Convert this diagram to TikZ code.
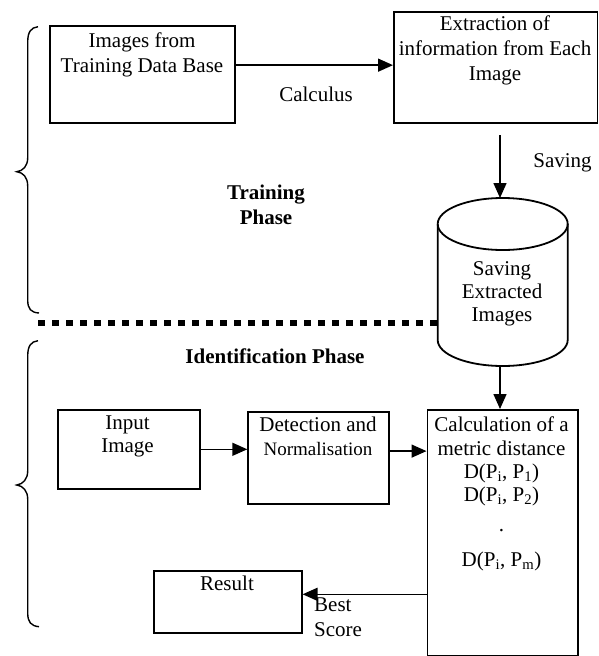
\documentclass[tikz,border=0pt]{standalone}
\usepackage{fontspec}
\setmainfont{Liberation Serif}
\usetikzlibrary{arrows.meta}
\newcommand\mystrut{\rule{0pt}{16pt}}
\begin{document}
\begin{tikzpicture}[x=1pt,y=-1pt,
  box/.style={draw, line width=1.9pt, rectangle, anchor=north west, inner sep=0pt},
  txt/.style={inner sep=0pt, align=center, font=\fontsize{21}{25}\selectfont},
  tighttxt/.style={inner sep=0pt, align=center, font=\fontsize{21}{23.3}\selectfont},
  boldtxt/.style={inner sep=0pt, align=center, font=\bfseries\fontsize{21}{25}\selectfont},
  arr/.style={line width=1.5pt, -{Triangle[length=15pt,width=13pt]}},
  bracestyle/.style={line width=1.4pt},
  cyl/.style={line width=1.8pt},
  sep/.style={line width=6pt, dash pattern=on 7pt off 7pt}]
\useasboundingbox (0,0) rectangle (598,656);

% braces
\draw[bracestyle] (38,26.7) .. controls (31,27.5) and (27.7,32) .. (27.7,42) -- (27.7,158)
  .. controls (27.7,166) and (23,171) .. (16.7,171.7)
  .. controls (23,172.5) and (27.7,177) .. (27.7,186) -- (27.7,300)
  .. controls (27.7,309) and (31,312.5) .. (39,313);
\draw[bracestyle] (38,340.7) .. controls (31,341.5) and (27.7,346) .. (27.7,356) -- (27.7,471)
  .. controls (27.7,479) and (23,484.3) .. (16.7,485)
  .. controls (23,485.7) and (27.7,491) .. (27.7,499) -- (27.7,613)
  .. controls (27.7,622) and (31,626) .. (39,626.7);

% separator
\draw[sep] (38,323) -- (437,323);

% training phase
\node[box, minimum width=185pt, minimum height=97pt] (b1) at (49.3,25) {};
\node[txt, anchor=north] (t1) at (142,31) {\mystrut Images from\\Training Data Base};
\node[box, minimum width=203.5pt, minimum height=111pt] (b2) at (393,11) {};
\node[txt, anchor=north] (t2) at (495,14) {\mystrut Extraction of\\information from Each\\Image};
\coordinate (a1) at ([yshift=9.3pt]b1.east);
\draw[arr] (a1) -- (a1 -| b2.west);
\node[txt, anchor=base] (calc1) at (316,101) {Calculus};

\coordinate (s1) at (500,135);
\coordinate (cyltop) at (500,198);
\draw[arr] (s1) -- (cyltop);
\node[txt, anchor=base] (sav) at (562.5,167) {Saving};

\node[boldtxt, anchor=north] (tp) at (266,183) {\mystrut Training\\Phase};

% cylinder
\draw[cyl, fill=white] (437.7,224) -- (437.7,340) .. controls (437.7,354.4) and (466.8,366) .. (502.7,366)
  .. controls (538.6,366) and (567.7,354.4) .. (567.7,340) -- (567.7,224);
\draw[cyl] (502.7,224) ellipse [x radius=65, y radius=26];
\node[tighttxt, anchor=north] (cyltxt) at (502,259) {\mystrut Saving\\Extracted\\Images};
\coordinate (cylbot) at (500,366);

% identification phase
\node[boldtxt, anchor=base] (ip) at (275,363) {Identification Phase};

\node[box, minimum width=141.7pt, minimum height=78.7pt] (in) at (57.3,409) {};
\node[tighttxt, anchor=north] (intxt) at (127.5,413) {\mystrut Input\\Image};

\node[box, minimum width=141pt, minimum height=92.3pt] (det) at (247.3,411) {};
\node[tighttxt, anchor=north] (dettxt) at (318,415.7) {\mystrut Detection and\\{\fontsize{19}{23.3}\selectfont Normalisation}};

\node[box, minimum width=150.2pt, minimum height=246pt] (calc) at (426.5,409) {};
\node[tighttxt, anchor=north] (calctxt) at (501.5,415.5) {\mystrut Calculation of a\\metric distance\\D(P\textsubscript{i}, P\textsubscript{1})\\D(P\textsubscript{i}, P\textsubscript{2})\\[7pt].\\[11pt]D(P\textsubscript{i}, P\textsubscript{m})};

\node[box, minimum width=147.4pt, minimum height=61.7pt] (res) at (153.3,570) {};
\node[txt, anchor=base] (restxt) at (227,590.7) {Result};

\draw[arr] (in.east) -- (in.east -| det.west);
\coordinate (a3) at ([yshift=7pt]det.east);
\draw[arr] (a3) -- (a3 -| calc.west);
\draw[arr] (cylbot) -- (cylbot |- calc.north);
\coordinate (a4) at ([yshift=7.5pt]res.east);
\draw[arr] (a4 -| calc.west) -- (a4);
\node[txt, align=left, anchor=north west] (best) at (314,595.7) {\mystrut Best\\Score};
\end{tikzpicture}
\end{document}
